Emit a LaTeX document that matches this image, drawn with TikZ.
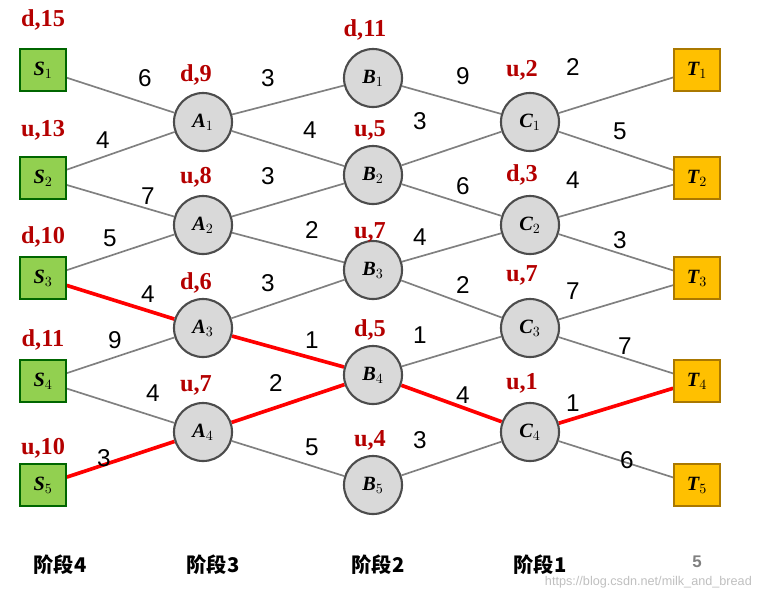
\documentclass[tikz,border=0pt]{standalone}
\usepackage{fontspec}
\setmainfont{Liberation Serif}
\setsansfont{Liberation Sans}
\newfontfamily\cjk{Noto Sans CJK SC}
\usetikzlibrary{backgrounds}
\begin{document}
\begin{tikzpicture}[x=0.025cm,y=-0.025cm,
    sbox/.style={draw=green!40!black,fill={rgb,255:red,146;green,208;blue,80},line width=1.2pt,minimum width=1.15cm,minimum height=1.05cm,font=\Large\bfseries\itshape},
    tbox/.style={draw={rgb,255:red,170;green,120;blue,0},fill={rgb,255:red,255;green,192;blue,0},line width=1.2pt,minimum width=1.15cm,minimum height=1.05cm,font=\Large\bfseries\itshape},
    stage/.style={circle,draw=black!70,fill=black!15,line width=1.5pt,minimum size=1.45cm,font=\Large\bfseries\itshape},
    edge/.style={draw=black!50,line width=1.2pt},
    best/.style={draw=red,line width=2.6pt},
    wt/.style={font=\sffamily\LARGE},
    val/.style={text={rgb,255:red,180;green,0;blue,0},font=\LARGE\bfseries},
    phase/.style={font=\cjk\Large\bfseries}]
    \useasboundingbox (0,0) rectangle (778,601);

    % nodes
    \foreach \i/\y in {1/70,2/178,3/278,4/381,5/485} {
        \node[sbox] (S\i) at (43,\y) {S$_{\i}$};
        \node[tbox] (T\i) at (697,\y) {T$_{\i}$};
    }
    \foreach \i/\y in {1/122,2/225,3/328,4/432} {
        \node[stage] (A\i) at (203,\y) {A$_{\i}$};
        \node[stage] (C\i) at (530,\y) {C$_{\i}$};
    }
    \foreach \i/\y in {1/78,2/175,3/270,4/375,5/485}
        \node[stage] (B\i) at (373,\y) {B$_{\i}$};

    % edges
    \begin{pgfonlayer}{background}
    \foreach \a/\b in {S1/A1,S2/A1,S2/A2,S3/A2,S4/A3,S4/A4,
                       A1/B1,A1/B2,A2/B2,A2/B3,A3/B3,A4/B5,
                       B1/C1,B2/C1,B2/C2,B3/C2,B3/C3,B4/C3,B5/C4,
                       C1/T1,C1/T2,C2/T2,C2/T3,C3/T3,C3/T4,C4/T5}
        \draw[edge] (\a) -- (\b);
    \foreach \a/\b in {S3/A3,S5/A4,A3/B4,A4/B4,B4/C4,C4/T4}
        \draw[best] (\a) -- (\b);
    \end{pgfonlayer}

    % weights
    \foreach \w/\x/\y [count=\k] in {6/145/78,4/103/140,7/148/196,5/110/238,4/148/294,9/115/340,4/153/393,3/104/458,
        3/268/78,4/310/130,3/268/176,2/312/230,3/268/283,1/312/340,2/276/383,5/312/447,
        9/463/76,3/420/121,6/463/186,4/420/237,2/463/285,1/420/335,4/463/395,3/420/440,
        2/573/67,5/620/131,4/573/180,3/620/240,7/573/291,7/625/346,1/573/403,6/627/460}
        \node[wt] (w\k) at (\x,\y) {\w};

    % decisions
    \foreach \d/\n/\x/\y [count=\k] in {d/15/43/20,u/13/43/130,d/10/43/237,d/11/43/340,u/10/43/448,
        d/9/196/75,u/8/196/177,d/6/196/283,u/7/196/385,
        d/11/365/30,u/5/370/130,u/7/370/232,d/5/370/330,u/4/370/440,
        u/2/522/70,d/3/522/175,u/7/522/275,u/1/522/383}
        \node[val] (v\k) at (\x,\y) {\d,\n};

    % stages
    \node[phase] (p4) at (60,565) {阶段4};
    \node[phase] (p3) at (213,565) {阶段3};
    \node[phase] (p2) at (378,565) {阶段2};
    \node[phase] (p1) at (540,565) {阶段1};
    \node[font=\sffamily\bfseries\large,text=black!50] (pg) at (697,562) {5};
    \node[font=\sffamily\small,text=black!25,anchor=west] (wm) at (540,582) {https://blog.csdn.net/milk\_and\_bread};
\end{tikzpicture}
\end{document}
